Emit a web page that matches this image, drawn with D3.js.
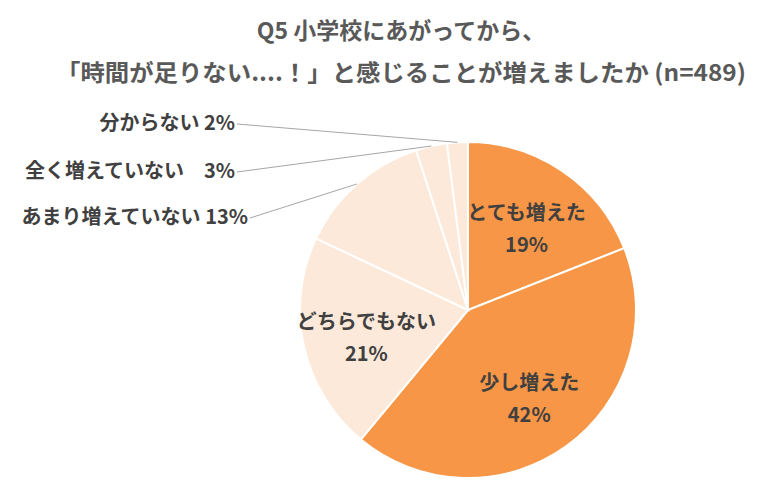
<!DOCTYPE html>
<html><head><meta charset="utf-8">
<script src="https://cdn.jsdelivr.net/npm/d3@7"></script>
<style>body{margin:0;background:#fff}svg{display:block}text{font-family:"Noto Sans CJK JP","Noto Sans",sans-serif;font-weight:bold}</style>
</head><body><svg id="c" width="757" height="486"></svg>
<script>
const categories = ["とても増えた", "少し増えた", "どちらでもない", "あまり増えていない", "全く増えていない", "分からない"];
const values = [19, 42, 21, 13, 3, 2];
const inside = [true, true, true, false, false, false];
const outsideText = ["", "", "", "あまり増えていない 13%", "全く増えていない　3%", "分からない 2%"];
const outsidePos = [null, null, null, [250, 224], [237, 178], [237, 130]];
const colors = ["#F79646", "#F79646", "#FDE9D9", "#FDE9D9", "#FDE9D9", "#FDE9D9"];

const svg = d3.select('#c');
const cx = 468, cy = 310, r = 168;

svg.append('text').attr('x', 401).attr('y', 39).attr('text-anchor', 'middle')
  .attr('font-size', 23).attr('fill', '#595959').text('Q5 小学校にあがってから、');
svg.append('text').attr('x', 401).attr('y', 81).attr('text-anchor', 'middle')
  .attr('font-size', 23).attr('fill', '#595959').attr('textLength', 690).attr('lengthAdjust', 'spacingAndGlyphs')
  .text('「時間が足りない....！」と感じることが増えましたか (n=489)');

const pie = d3.pie().sort(null)(values);
const arc = d3.arc().innerRadius(0).outerRadius(r);
const g = svg.append('g').attr('transform', `translate(${cx},${cy})`);
g.selectAll('path').data(pie).join('path')
  .attr('d', arc).attr('fill', (d, i) => colors[i])
  .attr('stroke', '#fff').attr('stroke-width', 2);

const labelArc = d3.arc().innerRadius(r * 0.62).outerRadius(r * 0.62);
pie.forEach((d, i) => {
  if (inside[i]) {
    const [x, y] = labelArc.centroid(d);
    g.append('text').attr('x', x).attr('y', y - 4).attr('text-anchor', 'middle')
      .attr('font-size', 20).attr('fill', '#404040').text(categories[i]);
    g.append('text').attr('x', x).attr('y', y + 28).attr('text-anchor', 'middle')
      .attr('font-size', 20).attr('fill', '#404040').text(values[i] + '%');
  } else {
    const a = (d.startAngle + d.endAngle) / 2;
    const ex = cx + r * Math.sin(a), ey = cy - r * Math.cos(a);
    const [lx, ly] = outsidePos[i];
    svg.append('line').attr('x1', lx).attr('y1', ly - 6).attr('x2', ex).attr('y2', ey)
      .attr('stroke', '#a6a6a6').attr('stroke-width', 1);
    svg.append('text').attr('x', lx - 2).attr('y', ly).attr('text-anchor', 'end')
      .attr('font-size', 20).attr('fill', '#404040').text(outsideText[i]);
  }
});
</script></body></html>
